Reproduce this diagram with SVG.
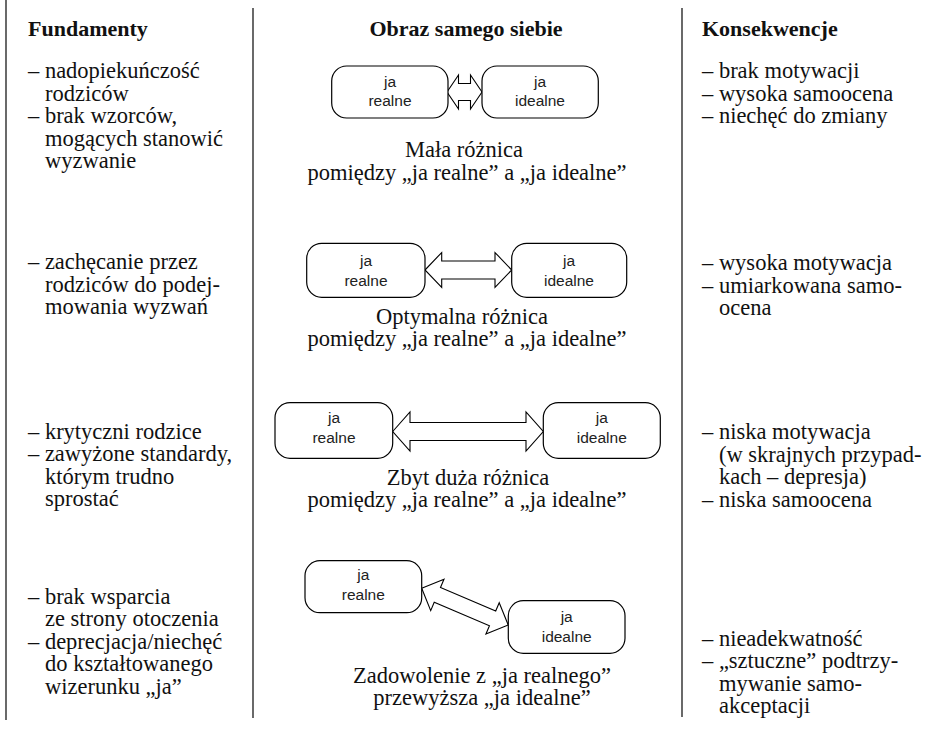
<svg xmlns="http://www.w3.org/2000/svg" width="926" height="730" viewBox="0 0 926 730">
  <style>
    .rule { stroke: #444; stroke-width: 1.6; fill: none; }
    .box { fill: #fff; stroke: #000; stroke-width: 1.2; }
    .arrow { fill: #fff; stroke: #000; stroke-width: 1.1; stroke-linejoin: miter; }
    .lbl { font-family: "Liberation Sans", Arial, sans-serif; font-size: 15.5px; fill: #222; text-anchor: middle; }
    .txt { font-family: "Liberation Serif", "Times New Roman", serif; font-size: 22.5px; fill: #111; }
    .hd { font-family: "Liberation Serif", "Times New Roman", serif; font-size: 22px; font-weight: bold; fill: #111; }
    .cap { font-family: "Liberation Serif", "Times New Roman", serif; font-size: 22.5px; fill: #111; text-anchor: middle; }
  </style>

  <rect width="926" height="730" fill="#fff"/>

  <!-- column rules -->
  <g id="rules">
    <line class="rule" x1="6" y1="0" x2="6" y2="720"/>
    <line class="rule" x1="253" y1="8" x2="253" y2="718"/>
    <line class="rule" x1="682" y1="8" x2="682" y2="717"/>
  </g>

  <!-- headings -->
  <g id="headings">
    <text class="hd" x="28" y="36">Fundamenty</text>
    <text class="hd" x="466" y="36" text-anchor="middle">Obraz samego siebie</text>
    <text class="hd" x="702" y="36">Konsekwencje</text>
  </g>

  <!-- left column: foundations -->
  <g id="fundamenty" class="txt">
    <text x="28" y="78">– nadopiekuńczość</text>
    <text x="45" y="100.5">rodziców</text>
    <text x="28" y="123">– brak wzorców,</text>
    <text x="45" y="145.5">mogących stanowić</text>
    <text x="45" y="168">wyzwanie</text>

    <text x="28" y="268.5">– zachęcanie przez</text>
    <text x="45" y="291.5">rodziców do podej-</text>
    <text x="45" y="314">mowania wyzwań</text>

    <text x="28" y="438.5">– krytyczni rodzice</text>
    <text x="28" y="461">– zawyżone standardy,</text>
    <text x="45" y="483.5">którym trudno</text>
    <text x="45" y="506">sprostać</text>

    <text x="28" y="603.5">– brak wsparcia</text>
    <text x="45" y="626">ze strony otoczenia</text>
    <text x="28" y="648.5">– deprecjacja/niechęć</text>
    <text x="45" y="671">do kształtowanego</text>
    <text x="45" y="693.5">wizerunku „ja”</text>
  </g>

  <!-- right column: consequences -->
  <g id="konsekwencje" class="txt">
    <text x="702" y="78">– brak motywacji</text>
    <text x="702" y="100.5">– wysoka samoocena</text>
    <text x="702" y="123">– niechęć do zmiany</text>

    <text x="702" y="270">– wysoka motywacja</text>
    <text x="702" y="292.5">– umiarkowana samo-</text>
    <text x="719" y="315">ocena</text>

    <text x="702" y="439">– niska motywacja</text>
    <text x="719" y="461.5">(w skrajnych przypad-</text>
    <text x="719" y="484">kach – depresja)</text>
    <text x="702" y="506.5">– niska samoocena</text>

    <text x="702" y="645.5">– nieadekwatność</text>
    <text x="702" y="668">– „sztuczne” podtrzy-</text>
    <text x="719" y="690.5">mywanie samo-</text>
    <text x="719" y="713">akceptacji</text>
  </g>

  <!-- connectors: double block arrows -->
  <g id="connectors">
    <path class="arrow" d="M447,92 L458.5,75 L458.5,83.5 L470.5,83.5 L470.5,75 L482,92 L470.5,109 L470.5,100.5 L458.5,100.5 L458.5,109 Z"/>
    <path class="arrow" d="M425,270 L441.7,252.5 L441.7,261 L495,261 L495,252.5 L511.7,270 L495,287.5 L495,279 L441.7,279 L441.7,287.5 Z"/>
    <path class="arrow" d="M392.7,431.5 L410,412 L410,422.5 L526,422.5 L526,412 L543.3,431.5 L526,451 L526,440.5 L410,440.5 L410,451 Z"/>
    <path class="arrow" transform="translate(421.7,588.3) rotate(23)" d="M0,0 L17,-17 L17,-8 L77,-8 L77,-17 L94,0 L77,17 L77,8 L17,8 L17,17 Z"/>
  </g>

  <!-- row 1: small difference -->
  <g id="r1-real">
    <rect class="box" x="331.7" y="66" width="116.3" height="52" rx="15"/>
    <text class="lbl" x="390" y="87">ja</text>
    <text class="lbl" x="390" y="106">realne</text>
  </g>
  <g id="r1-ideal">
    <rect class="box" x="482" y="66" width="116.3" height="52" rx="15"/>
    <text class="lbl" x="540" y="87">ja</text>
    <text class="lbl" x="540" y="106">idealne</text>
  </g>
  <g id="r1-caption" class="cap">
    <text x="464" y="157">Mała różnica</text>
    <text x="467" y="179.5">pomiędzy „ja realne” a „ja idealne”</text>
  </g>

  <!-- row 2: optimal difference -->
  <g id="r2-real">
    <rect class="box" x="306.7" y="243.3" width="118.3" height="54" rx="15"/>
    <text class="lbl" x="366" y="266">ja</text>
    <text class="lbl" x="366" y="285.5">realne</text>
  </g>
  <g id="r2-ideal">
    <rect class="box" x="511.7" y="243.3" width="115" height="54" rx="15"/>
    <text class="lbl" x="569" y="266">ja</text>
    <text class="lbl" x="569" y="285.5">idealne</text>
  </g>
  <g id="r2-caption" class="cap">
    <text x="462" y="323.5">Optymalna różnica</text>
    <text x="467" y="346">pomiędzy „ja realne” a „ja idealne”</text>
  </g>

  <!-- row 3: too large a difference -->
  <g id="r3-real">
    <rect class="box" x="275" y="402.7" width="117.7" height="55.6" rx="15"/>
    <text class="lbl" x="334" y="423">ja</text>
    <text class="lbl" x="334" y="443">realne</text>
  </g>
  <g id="r3-ideal">
    <rect class="box" x="543.3" y="402.7" width="117" height="55.6" rx="15"/>
    <text class="lbl" x="601.8" y="423">ja</text>
    <text class="lbl" x="601.8" y="443">idealne</text>
  </g>
  <g id="r3-caption" class="cap">
    <text x="468" y="484.5">Zbyt duża różnica</text>
    <text x="467" y="507">pomiędzy „ja realne” a „ja idealne”</text>
  </g>

  <!-- row 4: real self outweighs the ideal -->
  <g id="r4-real">
    <rect class="box" x="305" y="560.7" width="116.7" height="52" rx="15"/>
    <text class="lbl" x="363.3" y="579.5">ja</text>
    <text class="lbl" x="363.3" y="600">realne</text>
  </g>
  <g id="r4-ideal">
    <rect class="box" x="508.3" y="600.7" width="116.7" height="52.6" rx="15"/>
    <text class="lbl" x="566.7" y="621.5">ja</text>
    <text class="lbl" x="566.7" y="641.5">idealne</text>
  </g>
  <g id="r4-caption" class="cap">
    <text x="482" y="683">Zadowolenie z „ja realnego”</text>
    <text x="482" y="705">przewyższa „ja idealne”</text>
  </g>
</svg>
